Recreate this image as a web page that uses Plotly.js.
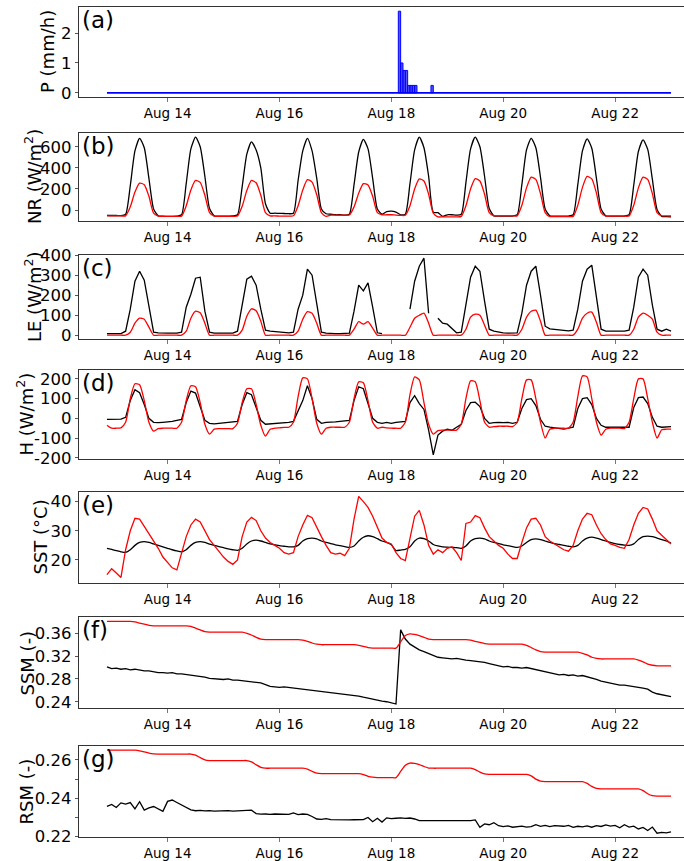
<!DOCTYPE html>
<html><head><meta charset="utf-8">
<script src="https://cdn.plot.ly/plotly-3.0.1.min.js"></script>
<style>
html,body{margin:0;padding:0;overflow:hidden;background:#fff;width:684px;height:861px}
#chart{width:700px;height:861px}
</style>
</head><body><div id="chart"></div><script>
// ---------------- DATA ----------------
// 2-hourly records from 2015-08-12 22:00 to 2015-08-23 00:00 (122 samples)
const recordStart = '2015-08-12T22:00:00Z';
const recordStepHours = 2;

const xTickDates = ['2015-08-14', '2015-08-16', '2015-08-18', '2015-08-20', '2015-08-22'];
const xTickLabels = ['Aug 14', 'Aug 16', 'Aug 18', 'Aug 20', 'Aug 22'];

// (a) precipitation, hourly totals (mm/h), only hours with rain
const pTimes = ['2015-08-18 03:00', '2015-08-18 04:00', '2015-08-18 05:00', '2015-08-18 06:00',
  '2015-08-18 07:00', '2015-08-18 08:00', '2015-08-18 09:00', '2015-08-18 10:00', '2015-08-18 17:00'];
const pVals = [2.73, 1.0, 0.75, 0.75, 0.25, 0.25, 0.25, 0.25, 0.25];

// (b) net radiation W/m2 : observed (black) / model (red)
const nrObs = [-50,
  -52,-52,-53,-40,230,560,680,590,300,10,-55,-58,
  -60,-60,-58,-45,250,580,690,600,320,15,-55,-58,
  -58,-57,-56,-45,220,530,645,570,400,60,-30,-30,
  -32,-33,-35,-30,280,560,680,560,300,10,-35,-40,
  -45,-45,-48,-40,240,550,670,580,300,10,-40,-15,
  -10,-20,-45,-40,250,570,690,590,320,-20,-25,-60,
  -45,-45,-48,-40,260,580,690,600,320,15,-55,-58,
  -58,-58,-57,-45,240,570,680,590,310,10,-55,-58,
  -58,-58,-57,-45,240,560,675,585,300,10,-55,-58,
  -58,-58,-57,-45,235,555,665,575,290,5,-60,-62,
  -65];
const nrMod = [-55,
  -55,-55,-56,-55,30,170,255,240,130,-30,-58,-60,
  -60,-60,-60,-58,40,190,280,262,140,-25,-58,-60,
  -60,-60,-60,-57,35,185,280,258,140,-25,-55,-56,
  -57,-57,-57,-55,40,190,288,265,145,-25,-60,-48,
  -48,-48,-48,-47,30,160,250,238,130,-25,-45,-45,
  -45,-48,-50,-50,40,200,295,275,150,-30,-65,-65,
  -65,-65,-65,-60,40,200,298,275,150,-25,-55,-55,
  -55,-55,-55,-55,45,210,312,290,155,-25,-62,-62,
  -62,-62,-62,-60,45,215,318,295,160,-25,-58,-58,
  -58,-58,-58,-56,45,210,312,290,155,-25,-55,-55,
  -56];

// (c) latent heat W/m2
const leObs = [8,
  8,8,8,20,130,270,320,275,150,15,12,10,
  10,10,10,15,140,205,285,290,120,15,10,10,
  10,10,10,20,160,280,295,250,130,25,20,18,
  15,12,12,15,130,200,330,300,150,15,10,8,
  8,8,8,10,120,250,222,262,140,12,8,null,
  null,null,null,null,130,270,345,385,110,null,85,60,
  55,35,12,15,150,290,345,320,170,30,20,15,
  12,10,10,12,110,250,320,345,200,45,32,30,
  28,25,22,25,130,270,330,350,190,30,20,20,
  20,20,20,25,140,290,330,300,150,30,20,30,
  20];
const leMod = [0,
  0,0,0,0,15,60,85,80,40,0,0,0,
  0,0,0,0,20,85,120,112,60,0,0,0,
  0,0,0,0,25,95,132,122,70,0,0,0,
  0,0,0,0,20,80,118,110,60,0,0,0,
  0,0,0,0,30,68,55,68,35,0,0,0,
  0,0,0,0,40,85,100,110,60,0,0,0,
  0,0,0,0,30,90,105,100,50,0,0,0,
  0,0,0,0,30,90,120,125,70,0,0,0,
  0,0,0,0,30,85,110,115,65,0,0,0,
  0,0,0,0,30,90,110,100,80,15,0,0,
  0];

// (d) sensible heat W/m2
const hObs = [-5,
  -5,-5,-4,5,90,145,130,70,0,-20,-22,-20,
  -18,-15,-10,-5,80,138,128,60,-10,-25,-28,-25,
  -22,-20,-18,-15,70,130,120,60,-10,-30,-28,-25,
  -25,-22,-20,-15,40,90,165,100,-5,-25,-20,-20,
  -18,-15,-12,-10,90,160,150,80,0,-20,-25,-20,
  -25,-20,-18,-15,80,115,75,45,-60,-185,-85,-65,
  -55,-60,-45,-30,40,80,82,60,0,-25,-22,-20,
  -22,-20,-25,-20,50,95,100,65,-5,-40,-45,-48,
  -52,-55,-50,-45,50,100,105,70,0,-35,-45,-45,
  -48,-45,-45,-45,55,105,108,75,5,-40,-45,-45,
  -42];
const hMod = [-35,
  -50,-50,-48,-20,100,175,170,90,-20,-65,-52,-50,
  -50,-50,-50,-20,90,165,160,80,-30,-80,-55,-52,
  -52,-52,-52,-25,80,150,150,70,-35,-90,-55,-50,
  -48,-46,-45,-20,110,205,200,100,-25,-80,-50,-45,
  -45,-45,-45,-20,100,185,180,90,-20,-50,-45,-48,
  -50,-50,-50,-20,120,210,195,80,-30,-80,-62,-60,
  -60,-60,-60,-30,100,190,185,90,-20,-45,-42,-40,
  -40,-40,-42,-20,100,195,195,100,-20,-100,-55,-50,
  -50,-50,-50,-20,110,215,210,100,-20,-85,-55,-50,
  -50,-50,-52,-20,100,200,200,100,-20,-100,-58,-55,
  -55];

// (e) surface temperature degC
const sstObs = [24.0,
  23.6,23.2,22.8,22.6,23.5,25.0,26.0,26.3,26.0,25.5,25.0,24.5,
  24.0,23.5,23.1,22.8,23.5,25.0,26.0,26.3,26.0,25.4,25.0,24.6,
  24.2,23.8,23.5,23.3,24.0,25.5,26.5,26.8,26.5,26.0,25.5,25.2,
  24.9,24.7,24.5,24.5,25.0,26.5,27.3,27.5,27.2,26.5,26.0,25.6,
  25.2,24.9,24.6,24.3,24.8,26.5,27.8,28.3,28.0,27.3,26.5,26.0,
  25.2,23.2,23.4,23.6,24.5,26.5,27.5,27.3,26.5,25.3,24.8,24.5,
  24.4,24.3,24.2,24.0,24.8,26.5,27.3,27.5,27.2,26.5,26.0,25.6,
  25.2,24.9,24.6,24.3,24.8,26.0,27.0,27.2,27.0,26.5,26.0,25.6,
  25.3,25.0,24.7,24.5,25.0,26.5,27.5,27.8,27.5,27.0,26.5,26.0,
  25.6,25.3,25.1,25.0,25.5,27.0,28.0,28.2,28.0,27.5,27.0,26.5,
  25.8];
const sstMod = [15.0,
  17.0,15.5,14.0,23.5,30.0,34.3,34.0,31.5,29.0,26.5,24.0,21.0,
  19.0,17.3,16.6,22.0,28.0,32.0,34.0,33.0,30.0,27.0,25.0,23.0,
  21.0,19.5,18.5,20.0,28.0,33.0,34.6,33.5,30.0,27.5,26.0,25.0,
  24.0,22.5,22.0,22.5,28.0,32.0,35.3,34.5,31.0,28.0,25.0,22.5,
  22.0,22.3,21.5,24.0,34.0,41.8,40.0,38.0,35.0,31.0,27.5,26.0,
  25.5,22.5,20.5,19.8,27.0,35.0,37.0,32.0,25.0,22.0,23.5,22.5,
  24.0,24.5,22.5,19.8,32.5,33.0,35.2,34.5,31.0,28.0,26.5,25.0,
  24.0,22.0,20.5,20.5,26.0,31.0,34.0,34.3,32.0,28.0,26.5,25.5,
  24.5,23.5,23.0,25.0,30.0,34.0,36.0,35.5,32.0,29.0,27.0,25.5,
  25.0,24.3,24.0,27.0,32.0,36.0,38.0,37.5,34.0,30.0,28.5,27.0,
  25.5];

// (f) surface soil moisture (-)
const ssmObs = [0.301,
  0.298,0.299,0.297,0.298,0.296,0.297,0.295,0.294,0.294,0.292,0.291,0.291,
  0.290,0.291,0.289,0.289,0.288,0.287,0.286,0.284,0.283,0.281,0.280,0.280,
  0.279,0.280,0.278,0.278,0.277,0.277,0.276,0.275,0.273,0.270,0.267,0.266,
  0.265,0.266,0.265,0.264,0.264,0.263,0.262,0.261,0.260,0.258,0.257,0.256,
  0.255,0.255,0.253,0.253,0.251,0.250,0.248,0.246,0.244,0.242,0.241,0.240,
  0.238,0.236,0.366,0.350,0.341,0.336,0.331,0.328,0.325,0.321,0.318,0.317,
  0.316,0.315,0.316,0.314,0.313,0.312,0.311,0.311,0.309,0.307,0.305,0.303,
  0.301,0.302,0.300,0.300,0.299,0.300,0.298,0.297,0.295,0.292,0.290,0.288,
  0.287,0.288,0.286,0.287,0.285,0.286,0.284,0.282,0.279,0.276,0.274,0.272,
  0.270,0.269,0.269,0.268,0.267,0.265,0.264,0.262,0.257,0.254,0.252,0.250,
  0.249];
const ssmMod = [0.381,
  0.381,0.381,0.381,0.381,0.381,0.380,0.378,0.376,0.374,0.373,0.373,0.373,
  0.373,0.373,0.373,0.373,0.373,0.372,0.369,0.366,0.363,0.362,0.362,0.362,
  0.362,0.362,0.362,0.362,0.362,0.360,0.357,0.353,0.350,0.349,0.349,0.349,
  0.349,0.349,0.349,0.349,0.349,0.348,0.346,0.343,0.341,0.340,0.340,0.340,
  0.340,0.340,0.340,0.340,0.340,0.339,0.337,0.335,0.334,0.334,0.334,0.334,
  0.334,0.334,0.345,0.356,0.359,0.358,0.356,0.353,0.350,0.349,0.349,0.349,
  0.349,0.349,0.349,0.349,0.349,0.348,0.346,0.344,0.342,0.341,0.341,0.341,
  0.341,0.341,0.341,0.341,0.341,0.339,0.335,0.331,0.328,0.327,0.327,0.327,
  0.327,0.327,0.327,0.327,0.327,0.325,0.322,0.318,0.316,0.315,0.315,0.315,
  0.315,0.315,0.315,0.315,0.315,0.313,0.310,0.306,0.304,0.303,0.303,0.303,
  0.303];

// (g) root-zone soil moisture (-)
const rsmObs = [0.2358,
  0.2368,0.2352,0.2376,0.2370,0.2378,0.2345,0.2382,0.2338,0.2350,0.2357,0.2346,0.2332,
  0.2384,0.2391,0.2378,0.2366,0.2355,0.2340,0.2335,0.2337,0.2334,0.2336,0.2333,0.2335,
  0.2334,0.2336,0.2333,0.2335,0.2334,0.2336,0.2338,0.2320,0.2317,0.2318,0.2316,0.2318,
  0.2317,0.2319,0.2316,0.2324,0.2315,0.2318,0.2316,0.2305,0.2292,0.2290,0.2294,0.2289,
  0.2288,0.2288,0.2289,0.2287,0.2288,0.2288,0.2289,0.2300,0.2278,0.2296,0.2276,0.2298,
  0.2294,0.2296,0.2298,0.2295,0.2297,0.2292,0.2283,0.2283,0.2283,0.2283,0.2283,0.2283,
  0.2283,0.2283,0.2283,0.2283,0.2283,0.2283,0.2287,0.2249,0.2266,0.2262,0.2273,0.2257,
  0.2252,0.2256,0.2249,0.2253,0.2255,0.2250,0.2252,0.2262,0.2254,0.2259,0.2252,0.2257,
  0.2256,0.2254,0.2259,0.2248,0.2254,0.2251,0.2256,0.2249,0.2257,0.2253,0.2261,0.2255,
  0.2259,0.2246,0.2262,0.2250,0.2255,0.2240,0.2248,0.2232,0.2250,0.2218,0.2222,0.2220,
  0.2225];
const rsmMod = [0.2651,
  0.2651,0.2651,0.2651,0.2651,0.2651,0.2651,0.2648,0.2642,0.2636,0.2632,0.2631,0.2631,
  0.2631,0.2631,0.2631,0.2631,0.2631,0.2631,0.2625,0.2612,0.2601,0.2597,0.2597,0.2597,
  0.2597,0.2597,0.2597,0.2597,0.2597,0.2597,0.2590,0.2575,0.2562,0.2557,0.2557,0.2557,
  0.2557,0.2557,0.2557,0.2557,0.2557,0.2557,0.2552,0.2541,0.2532,0.2529,0.2529,0.2529,
  0.2529,0.2529,0.2529,0.2529,0.2529,0.2529,0.2524,0.2515,0.2510,0.2508,0.2508,0.2508,
  0.2508,0.2508,0.2540,0.2572,0.2584,0.2582,0.2576,0.2566,0.2558,0.2557,0.2557,0.2557,
  0.2557,0.2557,0.2557,0.2557,0.2557,0.2557,0.2550,0.2537,0.2527,0.2525,0.2525,0.2525,
  0.2525,0.2525,0.2525,0.2525,0.2525,0.2525,0.2517,0.2500,0.2490,0.2487,0.2487,0.2487,
  0.2487,0.2487,0.2487,0.2487,0.2487,0.2487,0.2478,0.2462,0.2452,0.2449,0.2449,0.2449,
  0.2449,0.2449,0.2449,0.2449,0.2449,0.2449,0.2440,0.2424,0.2414,0.2411,0.2411,0.2411,
  0.2411];

// y-axis tick values / labels
const yTicks = {
  a: {vals: [0, 1, 2], text: ['0', '1', '2']},
  b: {vals: [0, 200, 400, 600], text: ['0', '200', '400', '600']},
  c: {vals: [0, 100, 200, 300, 400], text: ['0', '100', '200', '300', '400']},
  d: {vals: [-200, -100, 0, 100, 200], text: ['-200', '-100', '0', '100', '200']},
  e: {vals: [20, 30, 40], text: ['20', '30', '40']},
  f: {vals: [0.24, 0.28, 0.32, 0.36], text: ['0.24', '0.28', '0.32', '0.36']},
  g: {vals: [0.22, 0.24, 0.26], text: ['0.22', '0.24', '0.26']}
};
const yTitles = {
  a: 'P (mm/h)', b: 'NR (W/m<sup>2</sup>)', c: 'LE (W/m<sup>2</sup>)', d: 'H (W/m<sup>2</sup>)',
  e: 'SST (°C)', f: 'SSM (-)', g: 'RSM (-)'
};

// ---------------- BUILD ----------------
const t0 = Date.parse(recordStart);
const nSamples = nrObs.length;
const times = [];
for (let i = 0; i < nSamples; i++) {
  times.push(new Date(t0 + i * recordStepHours * 3600e3).toISOString().slice(0, 19).replace('T', ' '));
}

const W = 700, H = 861, ML = 79, MR = 1;
const PW = W - ML - MR;
const FONT = 'DejaVu Sans';
const xRange = ['2015-08-12 10:00', '2015-08-23 12:00'];

// panel geometry (pixels from top), y range, title centre x (px)
const panels = [
  {id: 'a', top: 7, bottom: 97, range: [-0.137, 2.87], titleX: 48},
  {id: 'b', top: 133, bottom: 221, range: [-104, 730], titleX: 33},
  {id: 'c', top: 255, bottom: 339, range: [-19, 401], titleX: 33},
  {id: 'd', top: 370, bottom: 459, range: [-206, 245], titleX: 26},
  {id: 'e', top: 492, bottom: 583, range: [12.1, 43.3], titleX: 40},
  {id: 'f', top: 617, bottom: 708, range: [0.229, 0.3886], titleX: 27},
  {id: 'g', top: 746, bottom: 837, range: [0.2198, 0.2673], titleX: 26}
];

const layout = {
  width: W, height: H,
  margin: {l: ML, r: MR, t: 0, b: 0, pad: 0},
  paper_bgcolor: '#fff', plot_bgcolor: '#fff',
  font: {family: FONT, color: '#000'},
  showlegend: false,
  bargap: 0,
  annotations: []
};

panels.forEach((p, k) => {
  const n = k + 1;
  const xs = n === 1 ? '' : String(n);
  layout['xaxis' + xs] = {
    type: 'date', domain: [0, 1], anchor: 'y' + xs, range: xRange,
    tickmode: 'array', tickvals: xTickDates, ticktext: xTickLabels,
    ticks: 'outside', ticklen: 4, tickwidth: 1, tickcolor: '#777',
    showline: true, mirror: true, linecolor: '#333', linewidth: 1.2,
    showgrid: false, zeroline: false,
    tickfont: {family: FONT, size: 13.5, color: '#000'}
  };
  const yt = yTicks[p.id];
  const yax = {
    domain: [1 - p.bottom / H, 1 - p.top / H], anchor: 'x' + xs, range: p.range,
    tickmode: 'array', tickvals: yt.vals, ticktext: yt.text,
    ticks: 'outside', ticklen: 3, tickwidth: 1, tickcolor: '#555',
    showline: true, mirror: true, linecolor: '#333', linewidth: 1.2,
    showgrid: false, zeroline: false,
    tickfont: {family: FONT, size: 16.5, color: '#000'}
  };
  if (p.id === 'g') {
    yax.minor = {tickmode: 'linear', tick0: 0.22, dtick: 0.01, ticks: 'outside', ticklen: 3, tickcolor: '#555', showgrid: false};
  }
  layout['yaxis' + xs] = yax;
  // panel letter
  layout.annotations.push({
    xref: 'x' + xs + ' domain', yref: 'y' + xs + ' domain', x: 0.002, y: 1.02,
    xanchor: 'left', yanchor: 'top', showarrow: false,
    text: '(' + p.id + ')', font: {family: FONT, size: 23, color: '#000'}
  });
  // y-axis title (rotated)
  layout.annotations.push({
    xref: 'paper', yref: 'paper',
    x: (p.titleX - ML) / PW, y: 1 - ((p.top + p.bottom) / 2) / H,
    xanchor: 'center', yanchor: 'middle', textangle: -90, showarrow: false,
    text: yTitles[p.id], font: {family: FONT, size: 18, color: '#000'}
  });
});

function line(y, color, axisN, shape) {
  const xs = axisN === 1 ? '' : String(axisN);
  return {
    type: 'scatter', mode: 'lines', x: times, y: y, xaxis: 'x' + xs, yaxis: 'y' + xs,
    line: {color: color, width: 1.3, shape: shape || 'linear', smoothing: 0.6},
    connectgaps: false, hoverinfo: 'skip'
  };
}

const traces = [
  // (a)
  {type: 'scatter', mode: 'lines', x: [times[0], times[times.length - 1]], y: [0, 0],
   xaxis: 'x', yaxis: 'y', line: {color: '#0000ff', width: 1.6}, hoverinfo: 'skip'},
  {type: 'bar', x: pTimes, y: pVals, xaxis: 'x', yaxis: 'y', width: 3600e3, offset: 0,
   marker: {color: 'rgba(30,30,255,0.75)', line: {color: '#0000ff', width: 1}}, hoverinfo: 'skip'},
  // (b)
  line(nrObs, '#000', 2, 'spline'), line(nrMod, '#ff0000', 2, 'spline'),
  // (c)
  line(leObs, '#000', 3), line(leMod, '#ff0000', 3, 'spline'),
  // (d)
  line(hObs, '#000', 4), line(hMod, '#ff0000', 4, 'spline'),
  // (e)
  line(sstObs, '#000', 5, 'spline'), line(sstMod, '#ff0000', 5),
  // (f)
  line(ssmObs, '#000', 6), line(ssmMod, '#ff0000', 6, 'spline'),
  // (g)
  line(rsmObs, '#000', 7), line(rsmMod, '#ff0000', 7, 'spline')
];

Plotly.newPlot('chart', traces, layout, {staticPlot: true, displayModeBar: false});
</script></body></html>
